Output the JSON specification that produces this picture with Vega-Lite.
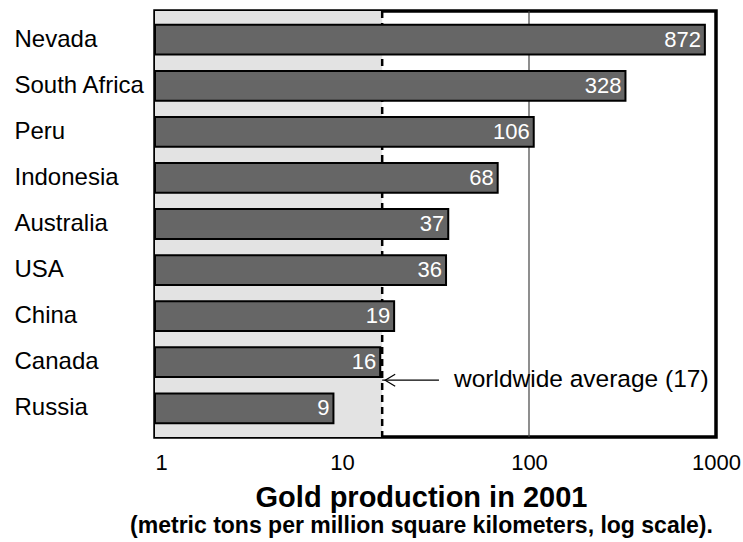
{
  "$schema": "https://vega.github.io/schema/vega-lite/v6.json",
  "autosize": "none",
  "width": 561,
  "height": 426,
  "padding": {"left": 155, "top": 11, "right": 27, "bottom": 105},
  "background": "white",
  "title": {
    "text": "(metric tons per million square kilometers, log scale).",
    "orient": "bottom",
    "anchor": "middle",
    "frame": "group",
    "offset": 3,
    "dx": -14,
    "fontSize": 23,
    "fontWeight": "bold",
    "color": "black",
    "font": "Liberation Sans"
  },
  "config": {
    "font": "Liberation Sans",
    "view": {"stroke": "black", "strokeWidth": 3.5}
  },
  "datasets": {
    "gold": [
      {"region": "Nevada", "value": 872},
      {"region": "South Africa", "value": 328},
      {"region": "Peru", "value": 106},
      {"region": "Indonesia", "value": 68},
      {"region": "Australia", "value": 37},
      {"region": "USA", "value": 36},
      {"region": "China", "value": 19},
      {"region": "Canada", "value": 16},
      {"region": "Russia", "value": 9}
    ],
    "avg": [
      {"label": "worldwide average (17)", "avg": 16.4, "start": 1, "arrowEnd": 33, "region": "Canada"}
    ],
    "ref": [
      {"ref": 100}
    ]
  },
  "layer": [
    {
      "data": {"name": "avg"},
      "mark": {"type": "rect", "color": "#e3e3e3"},
      "encoding": {
        "x": {"field": "start", "type": "quantitative", "scale": {"type": "log", "domain": [1, 1000], "nice": false}},
        "x2": {"field": "avg"}
      }
    },
    {
      "data": {"name": "ref"},
      "mark": {"type": "rule", "color": "#444444", "strokeWidth": 1.2},
      "encoding": {
        "x": {"field": "ref", "type": "quantitative"}
      }
    },
    {
      "data": {"name": "avg"},
      "mark": {"type": "rule", "color": "black", "strokeWidth": 2.5, "strokeDash": [7, 5]},
      "encoding": {
        "x": {"field": "avg", "type": "quantitative"}
      }
    },
    {
      "data": {"name": "gold"},
      "mark": {"type": "bar", "color": "#666666", "stroke": "black", "strokeWidth": 2},
      "encoding": {
        "y": {
          "field": "region",
          "type": "nominal",
          "sort": ["Nevada", "South Africa", "Peru", "Indonesia", "Australia", "USA", "China", "Canada", "Russia"],
          "scale": {"paddingInner": 0.354, "paddingOuter": 0.3},
          "axis": {
            "title": null,
            "domain": false,
            "ticks": false,
            "labelAlign": "left",
            "labelPadding": 141,
            "labelFontSize": 24,
            "labelColor": "black",
            "labelLimit": 200
          }
        },
        "x": {
          "field": "value",
          "type": "quantitative",
          "scale": {"type": "log", "domain": [1, 1000], "nice": false},
          "axis": {
            "values": [1, 10, 100, 1000],
            "format": "d",
            "grid": false,
            "ticks": false,
            "domain": false,
            "labelFontSize": 22,
            "labelColor": "black",
            "labelPadding": 15,
            "labelAlign": {"condition": {"test": "datum.value == 1", "value": "left"}, "value": "center"},
            "title": "Gold production in 2001",
            "titleFontSize": 29,
            "titleFontWeight": "bold",
            "titleColor": "black",
            "titleBaseline": "alphabetic",
            "titleX": 266,
            "titleY": 69
          }
        },
        "x2": {"datum": 1}
      }
    },
    {
      "data": {"name": "gold"},
      "mark": {"type": "text", "align": "right", "baseline": "middle", "dx": -4, "color": "white", "fontSize": 22},
      "encoding": {
        "y": {"field": "region", "type": "nominal", "sort": ["Nevada", "South Africa", "Peru", "Indonesia", "Australia", "USA", "China", "Canada", "Russia"]},
        "x": {"field": "value", "type": "quantitative"},
        "text": {"field": "value", "type": "quantitative"}
      }
    },
    {
      "data": {"name": "avg"},
      "mark": {"type": "rule", "color": "black", "strokeWidth": 1.2, "yOffset": 18},
      "encoding": {
        "x": {"field": "avg", "type": "quantitative"},
        "x2": {"field": "arrowEnd"},
        "y": {"field": "region", "type": "nominal", "sort": ["Nevada", "South Africa", "Peru", "Indonesia", "Australia", "USA", "China", "Canada", "Russia"]}
      }
    },
    {
      "data": {"name": "avg"},
      "mark": {"type": "point", "shape": "M 2 -1.2 L 0 0 L 2 1.2", "size": 100, "filled": false, "color": "black", "strokeWidth": 1.2, "opacity": 1, "xOffset": 3, "yOffset": 18},
      "encoding": {
        "x": {"field": "avg", "type": "quantitative"},
        "y": {"field": "region", "type": "nominal", "sort": ["Nevada", "South Africa", "Peru", "Indonesia", "Australia", "USA", "China", "Canada", "Russia"]}
      }
    },
    {
      "data": {"name": "avg"},
      "mark": {"type": "text", "align": "left", "baseline": "middle", "dx": 15, "yOffset": 18, "fontSize": 24.5, "color": "black"},
      "encoding": {
        "x": {"field": "arrowEnd", "type": "quantitative"},
        "y": {"field": "region", "type": "nominal", "sort": ["Nevada", "South Africa", "Peru", "Indonesia", "Australia", "USA", "China", "Canada", "Russia"]},
        "text": {"field": "label"}
      }
    }
  ]
}
